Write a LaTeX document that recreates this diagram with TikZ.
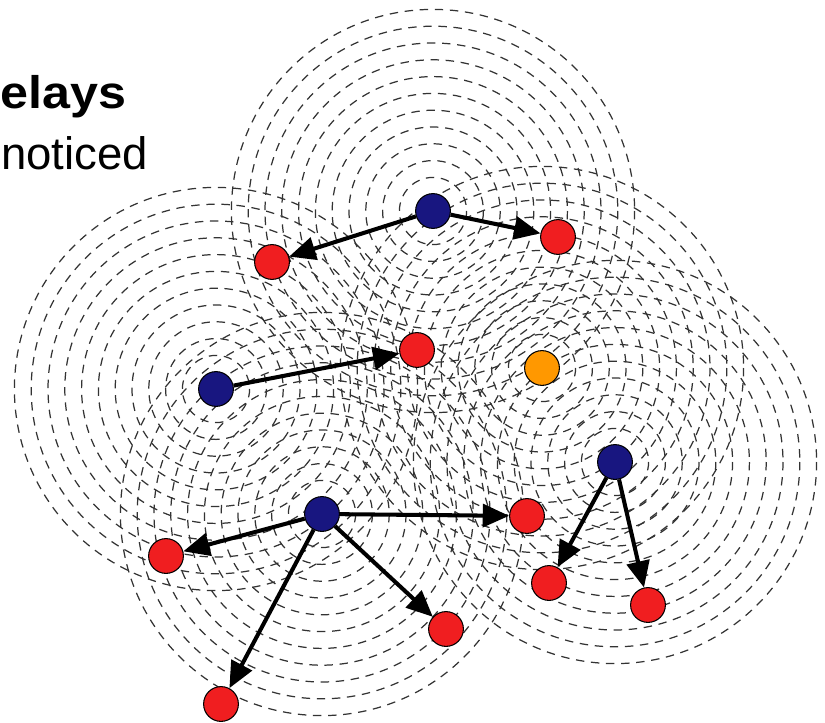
\documentclass[tikz,border=0pt]{standalone}
\usepackage{fontspec}
\setmainfont{Liberation Sans}
\usepackage{xcolor}
\definecolor{navy}{RGB}{24,22,128}
\definecolor{relayred}{RGB}{240,30,32}
\definecolor{idleorange}{RGB}{255,152,0}
\usetikzlibrary{arrows.meta}

\begin{document}
\begin{tikzpicture}[x=0.02cm, y=-0.02cm,
  ring/.style={dash pattern=on 4.8pt off 3.8pt, line width=0.7pt, black!80},
  sender/.style={circle, draw=black, line width=0.6pt, fill=navy, minimum size=19.8pt, inner sep=0pt},
  relay/.style={sender, fill=relayred},
  idle/.style={sender, fill=idleorange},
  hop/.style={-{Triangle[length=15pt,width=13pt]}, line width=2.3pt}]
  \def\Rstep{16.8}
  \useasboundingbox (0,0) rectangle (825,723);
  \clip (0,0) rectangle (825,723);

  \coordinate (tx) at (433,211);
  \coordinate (lx) at (216,389);
  \coordinate (bx) at (322,514);
  \coordinate (rx) at (615,462);
  \coordinate (ox) at (542,368);

  % radio ranges
  \foreach \c in {tx,lx,bx,rx,ox}
    \foreach \k in {2,...,12}
      \draw[ring] (\c) circle [radius=\k*\Rstep];

  \node[anchor=base west, inner sep=0pt, font=\bfseries\fontsize{26pt}{30pt}\selectfont] (head) at (0,109) {\scalebox{1.1}[1]{elays}};
  \node[anchor=base west, inner sep=0pt, font=\fontsize{25.9pt}{30pt}\selectfont] (note) at (1,170) {noticed};

  \node[sender] (t) at (tx) {};
  \node[sender] (l) at (lx) {};
  \node[sender] (b) at (bx) {};
  \node[sender] (r) at (rx) {};
  \node[idle] (o) at (ox) {};

  \node[relay] (t1) at (272,262) {};
  \node[relay] (t2) at (558,237) {};
  \node[relay] (l1) at (417,350) {};
  \node[relay] (b1) at (166,556) {};
  \node[relay] (b2) at (221,704) {};
  \node[relay] (b3) at (446,629) {};
  \node[relay] (b4) at (527,516) {};
  \node[relay] (r1) at (549,583) {};
  \node[relay] (r2) at (648,605) {};

  \draw[hop] (t) -- (t1);
  \draw[hop] (t) -- (t2);
  \draw[hop] (l) -- (l1);
  \draw[hop] (b) -- (b1);
  \draw[hop] (b) -- (b2);
  \draw[hop] (b) -- (b3);
  \draw[hop] (b) -- (b4);
  \draw[hop] (r) -- (r1);
  \draw[hop] (r) -- (r2);

\end{tikzpicture}
\end{document}
